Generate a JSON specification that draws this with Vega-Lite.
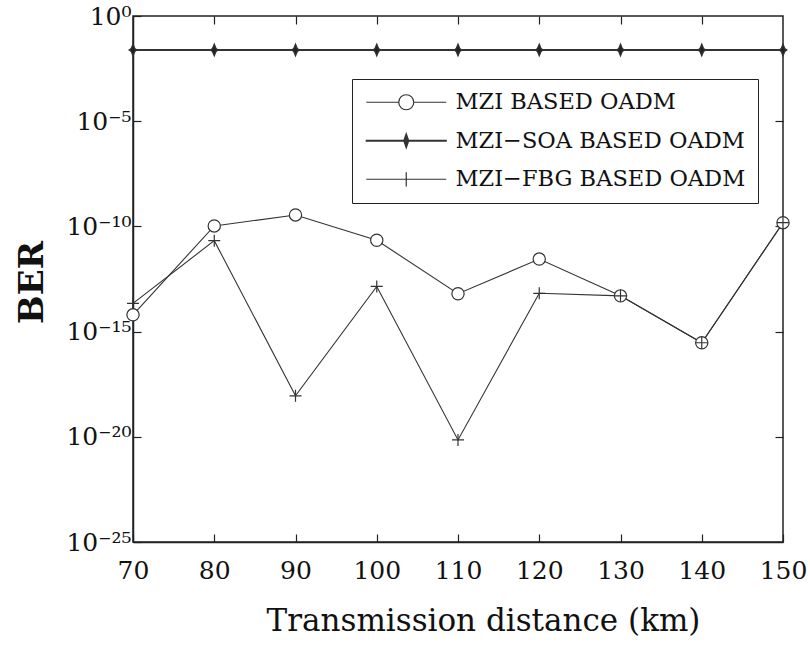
{
  "$schema": "https://vega.github.io/schema/vega-lite/v6.json",
  "width": 650,
  "height": 526,
  "autosize": {"type": "none"},
  "padding": {"left": 133, "top": 16, "right": 27, "bottom": 103},
  "background": "white",
  "config": {
    "view": {"stroke": "#222", "strokeWidth": 1.5},
    "font": "DejaVu Serif",
    "axis": {
      "grid": false,
      "domainColor": "#222",
      "domainWidth": 1.5,
      "tickColor": "#222",
      "tickWidth": 1.2,
      "tickSize": -8,
      "labelColor": "#111",
      "titleColor": "#111",
      "labelFont": "DejaVu Serif",
      "titleFont": "DejaVu Serif",
      "labelFlush": false,
      "labelOverlap": false
    }
  },
  "data": {
    "values": [
      {"dist": 70, "ber": 6.3e-15, "series": "MZI BASED OADM"},
      {"dist": 80, "ber": 1.05e-10, "series": "MZI BASED OADM"},
      {"dist": 90, "ber": 3.5e-10, "series": "MZI BASED OADM"},
      {"dist": 100, "ber": 2.2e-11, "series": "MZI BASED OADM"},
      {"dist": 110, "ber": 6.3e-14, "series": "MZI BASED OADM"},
      {"dist": 120, "ber": 2.8e-12, "series": "MZI BASED OADM"},
      {"dist": 130, "ber": 5e-14, "series": "MZI BASED OADM"},
      {"dist": 140, "ber": 2.95e-16, "series": "MZI BASED OADM"},
      {"dist": 150, "ber": 1.5e-10, "series": "MZI BASED OADM"},
      {"dist": 70, "ber": 0.0242, "series": "MZI−SOA BASED OADM"},
      {"dist": 80, "ber": 0.0242, "series": "MZI−SOA BASED OADM"},
      {"dist": 90, "ber": 0.0242, "series": "MZI−SOA BASED OADM"},
      {"dist": 100, "ber": 0.0242, "series": "MZI−SOA BASED OADM"},
      {"dist": 110, "ber": 0.0242, "series": "MZI−SOA BASED OADM"},
      {"dist": 120, "ber": 0.0242, "series": "MZI−SOA BASED OADM"},
      {"dist": 130, "ber": 0.0242, "series": "MZI−SOA BASED OADM"},
      {"dist": 140, "ber": 0.0242, "series": "MZI−SOA BASED OADM"},
      {"dist": 150, "ber": 0.0242, "series": "MZI−SOA BASED OADM"},
      {"dist": 70, "ber": 2.2e-14, "series": "MZI−FBG BASED OADM"},
      {"dist": 80, "ber": 2.1e-11, "series": "MZI−FBG BASED OADM"},
      {"dist": 90, "ber": 8.9e-19, "series": "MZI−FBG BASED OADM"},
      {"dist": 100, "ber": 1.4e-13, "series": "MZI−FBG BASED OADM"},
      {"dist": 110, "ber": 7.1e-21, "series": "MZI−FBG BASED OADM"},
      {"dist": 120, "ber": 6.6e-14, "series": "MZI−FBG BASED OADM"},
      {"dist": 130, "ber": 5e-14, "series": "MZI−FBG BASED OADM"},
      {"dist": 140, "ber": 2.95e-16, "series": "MZI−FBG BASED OADM"},
      {"dist": 150, "ber": 1.5e-10, "series": "MZI−FBG BASED OADM"}
    ]
  },
  "layer": [
    {
      "mark": {"type": "line", "color": "#333"},
      "encoding": {
        "x": {
          "field": "dist",
          "type": "quantitative",
          "scale": {"domain": [70, 150], "nice": false, "zero": false},
          "axis": {
            "orient": "bottom",
            "values": [70, 80, 90, 100, 110, 120, 130, 140, 150],
            "labelFontSize": 25,
            "labelPadding": 24,
            "title": "Transmission distance (km)",
            "titleFontSize": 31,
            "titleFontWeight": "normal",
            "titleX": 350,
            "titleY": 88,
            "titleBaseline": "alphabetic",
            "titleAlign": "center"
          }
        },
        "y": {
          "field": "ber",
          "type": "quantitative",
          "scale": {"type": "log", "domain": [1e-25, 1], "nice": false},
          "axis": {
            "orient": "left",
            "values": [1, 1e-5, 1e-10, 1e-15, 1e-20, 1e-25],
            "labelExpr": "datum.value >= 0.5 ? '10⁰' : datum.value > 1e-6 ? '10⁻⁵' : datum.value > 1e-11 ? '10⁻¹⁰' : datum.value > 1e-16 ? '10⁻¹⁵' : datum.value > 1e-21 ? '10⁻²⁰' : '10⁻²⁵'",
            "labelFontSize": 25,
            "labelPadding": 10,
            "title": "BER",
            "titleFontSize": 34,
            "titleFontWeight": "bold",
            "titleAngle": 270,
            "titleX": -91,
            "titleY": 266,
            "titleBaseline": "alphabetic",
            "titleAlign": "center"
          }
        },
        "detail": {"field": "series", "type": "nominal"},
        "strokeWidth": {
          "condition": {"test": "datum.series === 'MZI−SOA BASED OADM'", "value": 2},
          "value": 1.1
        }
      }
    },
    {
      "mark": {"type": "point", "filled": false, "stroke": "#333", "strokeWidth": 1.2, "opacity": 1},
      "encoding": {
        "x": {
          "field": "dist",
          "type": "quantitative",
          "scale": {"domain": [70, 150], "nice": false, "zero": false},
          "axis": {
            "orient": "top",
            "values": [80, 90, 100, 110, 120, 130, 140],
            "labels": false,
            "domain": false,
            "title": null
          }
        },
        "y": {
          "field": "ber",
          "type": "quantitative",
          "scale": {"type": "log", "domain": [1e-25, 1], "nice": false},
          "axis": {
            "orient": "right",
            "values": [1e-5, 1e-10, 1e-15, 1e-20],
            "labels": false,
            "domain": false,
            "title": null
          }
        },
        "shape": {
          "condition": [
            {"test": "datum.series === 'MZI−SOA BASED OADM'", "value": "M0,-1L0.3,-0.25L0.65,0L0.3,0.25L0,1L-0.3,0.25L-0.65,0L-0.3,-0.25Z"},
            {"test": "datum.series === 'MZI−FBG BASED OADM'", "value": "M-1,0L1,0M0,-1L0,1"}
          ],
          "value": "circle"
        },
        "fill": {
          "condition": [
            {"test": "datum.series === 'MZI−SOA BASED OADM'", "value": "#222"},
            {"test": "datum.series === 'MZI−FBG BASED OADM'", "value": "transparent"}
          ],
          "value": "white"
        },
        "size": {
          "condition": {"test": "datum.series === 'MZI BASED OADM'", "value": 150},
          "value": 144
        }
      }
    },
    {
      "mark": {"type": "point", "filled": false, "stroke": "#333", "strokeWidth": 1.2, "opacity": 0},
      "encoding": {
        "x": {"field": "dist", "type": "quantitative", "axis": null},
        "y": {"field": "ber", "type": "quantitative", "axis": null},
        "shape": {
          "field": "series",
          "type": "nominal",
          "scale": {
            "domain": ["MZI BASED OADM", "MZI−SOA BASED OADM", "MZI−FBG BASED OADM"],
            "range": [
              "M-5.33,0L-1,0M1,0L5.33,0M-1,0A1,1,0,1,1,1,0A1,1,0,1,1,-1,0",
              "M-5.33,-0.04L5.33,-0.04L5.33,0.04L-5.33,0.04ZM0,-0.95L0.33,0L0,0.95L-0.33,0ZM0,-0.62L0.21,0L0,0.62L-0.21,0ZM0,-0.3L0.1,0L0,0.3L-0.1,0Z",
              "M-5.33,0L5.33,0M0,-0.95L0,0.95"
            ]
          },
          "legend": {
            "orient": "none",
            "legendX": 219,
            "legendY": 63,
            "title": null,
            "padding": 12,
            "strokeColor": "#222",
            "labelFont": "DejaVu Serif",
            "labelFontSize": 22.5,
            "labelColor": "#111",
            "labelLimit": 500,
            "symbolSize": 225,
            "symbolStrokeWidth": 1.2,
            "symbolStrokeColor": "#333",
            "symbolFillColor": "transparent",
            "symbolOpacity": 1,
            "symbolOffset": 31,
            "labelOffset": 38,
            "rowPadding": 15.5
          }
        }
      }
    }
  ],
  "resolve": {"axis": {"x": "independent", "y": "independent"}}
}
